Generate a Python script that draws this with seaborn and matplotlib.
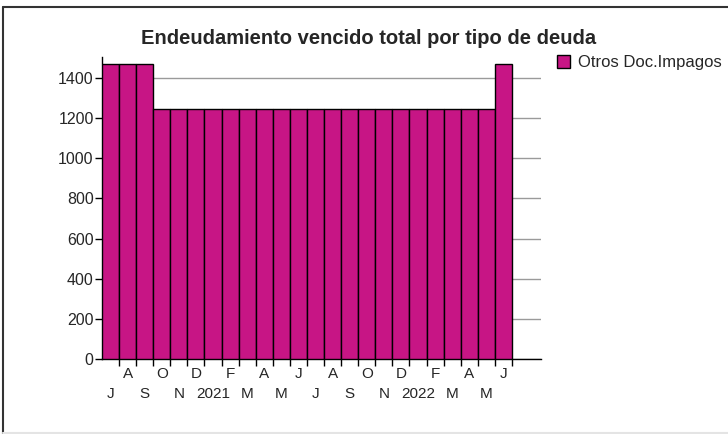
import pandas as pd
import seaborn as sns
import matplotlib.pyplot as plt
from matplotlib.lines import Line2D

# monthly overdue debt, Jul 2020 - Jun 2022
meses = ['J', 'A', 'S', 'O', 'N', 'D', '2021', 'F', 'M', 'A', 'M', 'J',
         'J', 'A', 'S', 'O', 'N', 'D', '2022', 'F', 'M', 'A', 'M', 'J']
valores = [1470, 1470, 1470, 1245, 1245, 1245, 1245, 1245, 1245, 1245, 1245, 1245,
           1245, 1245, 1245, 1245, 1245, 1245, 1245, 1245, 1245, 1245, 1245, 1470]
serie = 'Otros Doc.Impagos'

df = pd.DataFrame({'pos': range(len(meses)), 'valor': valores, 'serie': serie})

sns.set_style('white')
plt.rcParams['font.family'] = ['Liberation Sans', 'DejaVu Sans']

fig = plt.figure(figsize=(7.28, 4.34), dpi=100)
ax = fig.add_axes([102 / 728, 1 - 359 / 434, 439 / 728, 302 / 434])

sns.barplot(data=df, x='pos', y='valor', hue='serie', palette={serie: '#C71585'},
            width=1.0, edgecolor='black', linewidth=1, saturation=1, ax=ax, zorder=3)

ax.set_xlim(-0.5, 25.2)
ax.set_ylim(0, 1505)
ax.set_yticks(range(0, 1401, 200))
ax.tick_params(axis='y', labelsize=11.5, length=5, width=1, color='black', pad=1, left=True)
ax.yaxis.grid(True, color='#9a9a9a', linewidth=1, zorder=0)
ax.set_axisbelow(True)

# month labels on bar centres, alternating in two rows
pos = list(range(len(meses)))
ax.set_xticks(pos[1::2])
ax.set_xticklabels(meses[1::2], fontsize=11)
ax.tick_params(axis='x', which='major', length=0, pad=6)
sec = ax.secondary_xaxis('bottom')
sec.set_xticks(pos[0::2])
sec.set_xticklabels(meses[0::2], fontsize=11)
sec.tick_params(axis='x', length=0, pad=20)
sec.spines['bottom'].set_visible(False)

# tick marks on bar boundaries
ax.set_xticks([p + 0.5 for p in pos], minor=True)
ax.tick_params(axis='x', which='minor', length=5, width=1, color='black', bottom=True)

ax.set_xlabel('')
ax.set_ylabel('')
for s in ['top', 'right']:
    ax.spines[s].set_visible(False)
for s in ['left', 'bottom']:
    ax.spines[s].set_color('black')
    ax.spines[s].set_linewidth(1)

ax.legend(loc='upper left', bbox_to_anchor=(557 / 728, 1 - 55 / 434), bbox_transform=fig.transFigure,
          frameon=False, fontsize=12, handlelength=0.8, handleheight=0.8, handletextpad=0.45,
          borderpad=0, borderaxespad=0)

fig.text(369 / 728, 1 - 39 / 434, 'Endeudamiento vencido total por tipo de deuda',
         ha='center', va='center', fontsize=14.5, fontweight='bold')

# sunken frame
fig.add_artist(Line2D([3 / 728, 1], [1 - 7 / 434, 1 - 7 / 434], color='#333333', linewidth=1.5))
fig.add_artist(Line2D([3 / 728, 3 / 728], [0, 1 - 7 / 434], color='#333333', linewidth=1.5))
fig.add_artist(Line2D([3 / 728, 1], [1.5 / 434, 1.5 / 434], color='#e4e4e4', linewidth=1.5))

fig.savefig('out.png', dpi=100)
